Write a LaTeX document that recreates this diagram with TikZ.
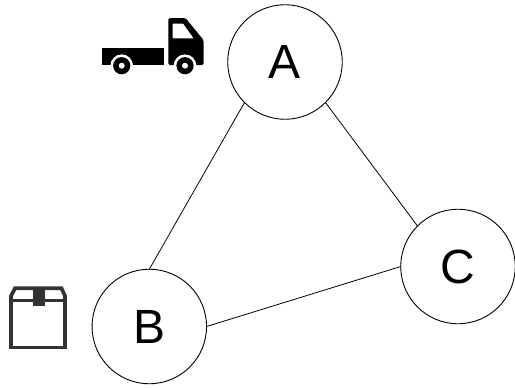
\documentclass[tikz,border=0pt]{standalone}
\usepackage{fontspec}
\setmainfont{Liberation Sans}
\definecolor{boxgrey}{HTML}{333333}
\tikzset{
  place/.style={circle,draw=black,line width=0.9pt,minimum size=114.5pt,inner sep=0pt,outer sep=0pt,font=\fontsize{48}{48}\selectfont,text=black},
  link/.style={draw=black,line width=0.8pt},
  ink/.style={fill=black,draw=none},
  boxink/.style={draw=boxgrey,line width=3.7pt,line join=miter}
}
\begin{document}
\begin{tikzpicture}[x=1pt,y=-1pt]
\useasboundingbox (0,0) rectangle (515,388);
\node[place] (A) at (285,62) {\raisebox{-1pt}{A}};
\node[place] (B) at (149.3,326.5) {\raisebox{-1pt}{B}};
\node[place] (C) at (458,266.5) {C};
\draw[link] (A.225) -- (B.90);
\draw[link] (A.-45) -- (C.135);
\draw[link] (B.0) -- (C.180);
% truck
\fill[ink] (101.7,48.3) rectangle (163.5,65);
\fill[ink,rounded corners=1.5pt] (168.3,65) -- (168.3,18) -- (185.5,18) -- (203.5,40) -- (203.5,65) -- cycle;
\fill[white,rounded corners=0.8pt] (172.5,23.5) -- (183,23.5) -- (193.5,38.3) -- (172.5,38.3) -- cycle;
\foreach \wx in {121.7,185}{
  \fill[white] (\wx,65.7) circle (11.3pt);
  \fill[ink] (\wx,65.7) circle (8.6pt);
  \fill[white] (\wx,65.7) circle (3pt);
}
% box
\draw[boxink] (11,300.5) -- (11,347.5) -- (65,347.5) -- (65,300.5) -- cycle;
\draw[boxink] (11,300.5) -- (11,296) -- (15,288.3) -- (61.5,288.3) -- (65,296) -- (65,300.5);
\fill[boxgrey] (32.7,287) rectangle (45,306);
\end{tikzpicture}
\end{document}
